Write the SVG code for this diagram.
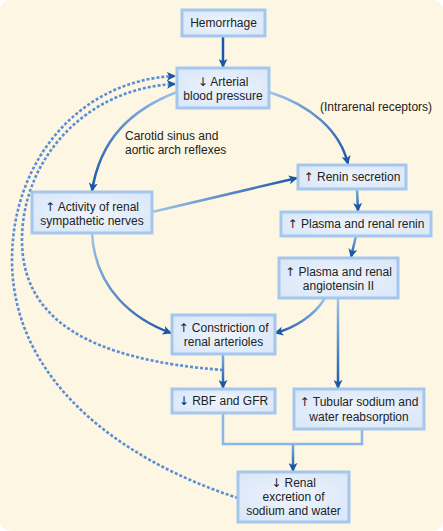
<svg xmlns="http://www.w3.org/2000/svg" width="443" height="531" viewBox="0 0 443 531">
<style>
.box{fill:url(#bf);stroke:#a5c7ee;stroke-width:3}
.t{font-family:"Liberation Sans",Arial,sans-serif;font-size:12px;fill:#222;text-anchor:middle}
.a{font-family:"DejaVu Sans",sans-serif;font-size:12px}
.lbl{font-family:"Liberation Sans",Arial,sans-serif;font-size:12px;fill:#222}
.c{fill:none;stroke-width:2.5}
.dot{fill:none;stroke:#5a8fd6;stroke-width:2.6;stroke-dasharray:3 2}
</style>
<defs>
<radialGradient id="bf" cx="50%" cy="50%" r="70%">
<stop offset="0" stop-color="#eef4fc"/><stop offset="1" stop-color="#d8e6f8"/>
</radialGradient>
<marker id="ah" viewBox="0 0 10 10" refX="9" refY="5" markerWidth="9" markerHeight="9" markerUnits="userSpaceOnUse" orient="auto">
<path d="M0,0 L10,5 L0,10 L2.5,5 Z" fill="#1b57a8"/>
</marker>
<linearGradient id="g2" gradientUnits="userSpaceOnUse" x1="177" y1="92" x2="92" y2="190"><stop offset="0" stop-color="#9cc4ec"/><stop offset="1" stop-color="#1b57a8"/></linearGradient>
<linearGradient id="g3" gradientUnits="userSpaceOnUse" x1="269" y1="92" x2="348" y2="163"><stop offset="0" stop-color="#9cc4ec"/><stop offset="1" stop-color="#1b57a8"/></linearGradient>
<linearGradient id="g4" gradientUnits="userSpaceOnUse" x1="152" y1="212" x2="298" y2="178"><stop offset="0" stop-color="#9cc4ec"/><stop offset="1" stop-color="#1b57a8"/></linearGradient>
<linearGradient id="g5" gradientUnits="userSpaceOnUse" x1="0" y1="189" x2="0" y2="212"><stop offset="0" stop-color="#7aaee6"/><stop offset="1" stop-color="#1b57a8"/></linearGradient>
<linearGradient id="g6" gradientUnits="userSpaceOnUse" x1="0" y1="236" x2="0" y2="258"><stop offset="0" stop-color="#7aaee6"/><stop offset="1" stop-color="#1b57a8"/></linearGradient>
<linearGradient id="g7" gradientUnits="userSpaceOnUse" x1="325" y1="298" x2="276" y2="333"><stop offset="0" stop-color="#9cc4ec"/><stop offset="1" stop-color="#1b57a8"/></linearGradient>
<linearGradient id="g8" gradientUnits="userSpaceOnUse" x1="0" y1="298" x2="0" y2="388"><stop offset="0" stop-color="#9cc4ec"/><stop offset="1" stop-color="#1b57a8"/></linearGradient>
<linearGradient id="g9" gradientUnits="userSpaceOnUse" x1="92" y1="233" x2="172" y2="333"><stop offset="0" stop-color="#9cc4ec"/><stop offset="1" stop-color="#1b57a8"/></linearGradient>
<linearGradient id="g10" gradientUnits="userSpaceOnUse" x1="0" y1="354" x2="0" y2="388"><stop offset="0" stop-color="#7aaee6"/><stop offset="1" stop-color="#1b57a8"/></linearGradient>
<linearGradient id="g11" gradientUnits="userSpaceOnUse" x1="0" y1="444" x2="0" y2="471"><stop offset="0" stop-color="#7aaee6"/><stop offset="1" stop-color="#1b57a8"/></linearGradient>
</defs>
<rect x="0" y="0" width="443" height="531" fill="#ffffff"/>
<rect x="0" y="0" width="443" height="531" rx="10" fill="#fdf6e2"/>
<g id="labels">
<text class="lbl" x="320" y="111">(Intrarenal receptors)</text>
<text class="lbl" x="125" y="140">Carotid sinus and</text>
<text class="lbl" x="125" y="154">aortic arch reflexes</text>
</g>
<g id="connectors">
<path class="dot" d="M238,498 C120,460 12,380 12,260 C12,160 80,80 175,76" marker-end="url(#ah)"/>
<path class="dot" d="M223,370 C90,360 22,320 22,240 C22,160 85,88 175,84" marker-end="url(#ah)"/>
<path class="c" stroke="#1b57a8" d="M223,36 L223,67" marker-end="url(#ah)"/>
<path class="c" stroke="url(#g2)" d="M177,92 C130,110 100,140 92,191" marker-end="url(#ah)"/>
<path class="c" stroke="url(#g3)" d="M269,92 C310,105 340,130 348,164" marker-end="url(#ah)"/>
<path class="c" stroke="url(#g4)" d="M152,212 L297,178" marker-end="url(#ah)"/>
<path class="c" stroke="url(#g5)" d="M357,189 L358,211" marker-end="url(#ah)"/>
<path class="c" stroke="url(#g6)" d="M356,236 L351,257" marker-end="url(#ah)"/>
<path class="c" stroke="url(#g7)" d="M325,298 C315,315 295,328 275,333" marker-end="url(#ah)"/>
<path class="c" stroke="url(#g8)" d="M338,298 L338,388" marker-end="url(#ah)"/>
<path class="c" stroke="url(#g9)" d="M92,233 C95,290 135,320 171,333" marker-end="url(#ah)"/>
<path class="c" stroke="url(#g10)" d="M223,354 L223,388" marker-end="url(#ah)"/>
<path class="c" stroke="#8ab8e6" d="M223,413 L223,444 L362,444 L362,429"/>
<path class="c" stroke="url(#g11)" d="M293,444 L293,471" marker-end="url(#ah)"/>
</g>
<g id="hemorrhage"><rect class="box" x="182" y="10" width="83" height="26"/><text class="t" x="223.5" y="27">Hemorrhage</text></g>
<g id="arterial"><rect class="box" x="177" y="68" width="92" height="40"/><text class="t" x="223" y="86"><tspan class="a">↓</tspan> Arterial</text><text class="t" x="223" y="100">blood pressure</text></g>
<g id="sympathetic"><rect class="box" x="32" y="192" width="120" height="41"/><text class="t" x="92" y="211"><tspan class="a">↑</tspan> Activity of renal</text><text class="t" x="92" y="225">sympathetic nerves</text></g>
<g id="renin"><rect class="box" x="298" y="165" width="108" height="24"/><text class="t" x="352" y="181"><tspan class="a">↑</tspan> Renin secretion</text></g>
<g id="plasmarenin"><rect class="box" x="281" y="212" width="150" height="24"/><text class="t" x="356" y="228"><tspan class="a">↑</tspan> Plasma and renal renin</text></g>
<g id="angiotensin"><rect class="box" x="279" y="258" width="119" height="40"/><text class="t" x="338.5" y="276"><tspan class="a">↑</tspan> Plasma and renal</text><text class="t" x="338.5" y="290">angiotensin II</text></g>
<g id="constriction"><rect class="box" x="172" y="315" width="103" height="39"/><text class="t" x="223.5" y="332"><tspan class="a">↑</tspan> Constriction of</text><text class="t" x="223.5" y="346">renal arterioles</text></g>
<g id="rbf"><rect class="box" x="172" y="389" width="103" height="24"/><text class="t" x="223.5" y="405"><tspan class="a">↓</tspan> RBF and GFR</text></g>
<g id="tubular"><rect class="box" x="294" y="389" width="130" height="40"/><text class="t" x="359" y="406"><tspan class="a">↑</tspan> Tubular sodium and</text><text class="t" x="359" y="421">water reabsorption</text></g>
<g id="excretion"><rect class="box" x="238" y="472" width="111" height="50"/><text class="t" x="293.5" y="487"><tspan class="a">↓</tspan> Renal</text><text class="t" x="293.5" y="501">excretion of</text><text class="t" x="293.5" y="515">sodium and water</text></g>
</svg>
